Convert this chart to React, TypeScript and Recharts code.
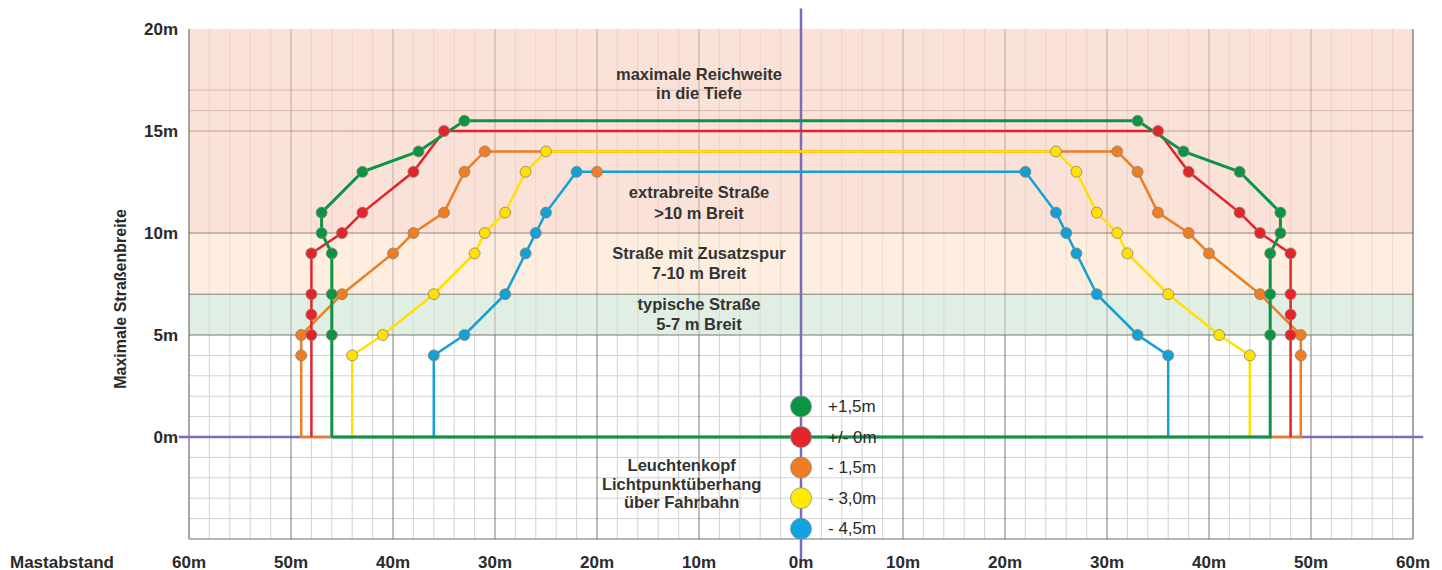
import React from "react";
import {
  ComposedChart,
  Line,
  Scatter,
  XAxis,
  YAxis,
  ReferenceArea,
  ReferenceLine,
} from "recharts";

// Achsen
const xTicks = [-60, -50, -40, -30, -20, -10, 0, 10, 20, 30, 40, 50, 60];
const yTicks = [0, 5, 10, 15, 20];

// Lichtpunktüberhang-Kurven (x = Mastabstand, y = Straßenbreite), links -> rechts
const greenPath = [
  { x: -46, y: 0 }, { x: -46, y: 5 }, { x: -46, y: 7 }, { x: -46, y: 9 },
  { x: -47, y: 10 }, { x: -47, y: 11 }, { x: -43, y: 13 }, { x: -37.5, y: 14 },
  { x: -33, y: 15.5 }, { x: 33, y: 15.5 }, { x: 37.5, y: 14 }, { x: 43, y: 13 },
  { x: 47, y: 11 }, { x: 47, y: 10 }, { x: 46, y: 9 }, { x: 46, y: 7 },
  { x: 46, y: 5 }, { x: 46, y: 0 }, { x: -46, y: 0 },
];
const redPath = [
  { x: -48, y: 0 }, { x: -48, y: 5 }, { x: -48, y: 6 }, { x: -48, y: 7 },
  { x: -48, y: 9 }, { x: -45, y: 10 }, { x: -43, y: 11 }, { x: -38, y: 13 },
  { x: -35, y: 15 }, { x: 35, y: 15 }, { x: 38, y: 13 }, { x: 43, y: 11 },
  { x: 45, y: 10 }, { x: 48, y: 9 }, { x: 48, y: 7 }, { x: 48, y: 6 },
  { x: 48, y: 5 }, { x: 48, y: 0 },
];
const orangePath = [
  { x: -46, y: 0 }, { x: -49, y: 0 }, { x: -49, y: 4 }, { x: -49, y: 5 },
  { x: -45, y: 7 }, { x: -40, y: 9 }, { x: -38, y: 10 }, { x: -35, y: 11 },
  { x: -33, y: 13 }, { x: -31, y: 14 }, { x: 31, y: 14 }, { x: 33, y: 13 },
  { x: 35, y: 11 }, { x: 38, y: 10 }, { x: 40, y: 9 }, { x: 45, y: 7 },
  { x: 49, y: 5 }, { x: 49, y: 4 }, { x: 49, y: 0 }, { x: 46, y: 0 },
];
const yellowPath = [
  { x: -44, y: 0 }, { x: -44, y: 4 }, { x: -41, y: 5 }, { x: -36, y: 7 },
  { x: -32, y: 9 }, { x: -31, y: 10 }, { x: -29, y: 11 }, { x: -27, y: 13 },
  { x: -25, y: 14 }, { x: 25, y: 14 }, { x: 27, y: 13 }, { x: 29, y: 11 },
  { x: 31, y: 10 }, { x: 32, y: 9 }, { x: 36, y: 7 }, { x: 41, y: 5 },
  { x: 44, y: 4 }, { x: 44, y: 0 },
];
const bluePath = [
  { x: -36, y: 0 }, { x: -36, y: 4 }, { x: -33, y: 5 }, { x: -29, y: 7 },
  { x: -27, y: 9 }, { x: -26, y: 10 }, { x: -25, y: 11 }, { x: -22, y: 13 },
  { x: 22, y: 13 }, { x: 25, y: 11 }, { x: 26, y: 10 }, { x: 27, y: 9 },
  { x: 29, y: 7 }, { x: 33, y: 5 }, { x: 36, y: 4 }, { x: 36, y: 0 },
];
// einzelner orangefarbener Punkt auf der blauen Linie (im Original vorhanden)
const strayDots = [{ x: -20, y: 13 }];

// Legende (Punkte sitzen auf der Mittelachse)
const legendLabels = ["+1,5m", "+/- 0m", "- 1,5m", "- 3,0m", "- 4,5m"];
const legendHeights = [1.5, 0, -1.5, -3, -4.5];

// Beschriftungen im Diagramm
const notes = [
  { x: -10, y: 17.8, text: "maximale Reichweite" },
  { x: -10, y: 16.85, text: "in die Tiefe" },
  { x: -10, y: 12.0, text: "extrabreite Straße" },
  { x: -10, y: 11.0, text: ">10 m Breit" },
  { x: -10, y: 9.0, text: "Straße mit Zusatzspur" },
  { x: -10, y: 8.05, text: "7-10 m Breit" },
  { x: -10, y: 6.5, text: "typische Straße" },
  { x: -10, y: 5.55, text: "5-7 m Breit" },
  { x: -11.7, y: -1.38, text: "Leuchtenkopf" },
  { x: -11.7, y: -2.28, text: "Lichtpunktüberhang" },
  { x: -11.7, y: -3.18, text: "über Fahrbahn" },
];

const C = {
  green: "#0C9445",
  red: "#E3242B",
  orange: "#EE7D23",
  yellow: "#FFE000",
  blue: "#12A0D5",
  purple: "#7D6BB8",
  text: "#2a2a2a",
  dotStroke: "#8d8373",
};
const legendColors = [C.green, C.red, C.orange, "#FFEA00", "#0FA3E0"];
const FONT = "'Liberation Sans', Arial, sans-serif";

const bands = [
  { from: 10, to: 20, fill: "#FBE2D8" },
  { from: 7, to: 10, fill: "#FDEEE0" },
  { from: 5, to: 7, fill: "#E1EEE3" },
];

// Rasterlinien
const minorX = Array.from({ length: 59 }, (_, i) => -58 + i * 2).filter((v) => v % 10 !== 0);
const majorX = [-50, -40, -30, -20, -10, 10, 20, 30, 40, 50];
const minorYLow = [4, 3, 2, 1, -1, -2, -3, -4];
const minorYHigh = [17, 16];

const seg = (x1: number, y1: number, x2: number, y2: number) => [
  { x: x1, y: y1 },
  { x: x2, y: y2 },
];

function makeDot(color: string) {
  return (p: any) => {
    if (p.payload.y === 0) return <g key={p.index} />;
    return (
      <circle
        key={p.index}
        cx={p.cx}
        cy={p.cy}
        r={5.5}
        fill={color}
        stroke={C.dotStroke}
        strokeWidth={0.8}
      />
    );
  };
}

const YTick = (p: any) => (
  <text
    x={p.x - 11}
    y={p.y}
    textAnchor="end"
    dominantBaseline="central"
    fontFamily={FONT}
    fontWeight="bold"
    fontSize={17}
    fill={C.text}
  >
    {p.payload.value}m
  </text>
);

const XTick = (p: any) => (
  <text
    x={p.x}
    y={p.y + 23}
    textAnchor="middle"
    dominantBaseline="central"
    fontFamily={FONT}
    fontWeight="bold"
    fontSize={17}
    fill={C.text}
  >
    {Math.abs(p.payload.value)}m
  </text>
);

export default function App() {
  const legendRows = legendLabels.map((label, i) => ({
    x: 0,
    y: legendHeights[i],
    label,
    color: legendColors[i],
  }));

  return (
    <div style={{ position: "absolute", left: 0, top: 0, width: 1442, height: 570, background: "#fff" }}>
      <ComposedChart
        width={1442}
        height={570}
        margin={{ top: 29, right: 29, bottom: 0, left: 109 }}
        style={{ fontFamily: FONT }}
      >
        <XAxis
          type="number"
          dataKey="x"
          domain={[-60, 60]}
          ticks={xTicks}
          height={31}
          axisLine={false}
          tickLine={false}
          tickSize={0}
          tickMargin={0}
          tick={<XTick />}
          interval={0}
          allowDataOverflow
          label={(p: any) => (
            <text
              x={p.viewBox.x - 179}
              y={p.viewBox.y + 23}
              dominantBaseline="central"
              fontFamily={FONT}
              fontWeight="bold"
              fontSize={17}
              fill={C.text}
            >
              Mastabstand
            </text>
          )}
        />
        <YAxis
          type="number"
          dataKey="y"
          domain={[-5, 20]}
          ticks={yTicks}
          width={80}
          axisLine={false}
          tickLine={false}
          tickSize={0}
          tickMargin={0}
          tick={<YTick />}
          interval={0}
          allowDataOverflow
          label={(p: any) => {
            const cx = p.viewBox.x + 11;
            const cy = p.viewBox.y + p.viewBox.height / 2 + 15;
            return (
              <text
                x={cx}
                y={cy}
                transform={`rotate(-90 ${cx} ${cy})`}
                textAnchor="middle"
                dominantBaseline="central"
                fontFamily={FONT}
                fontWeight="bold"
                fontSize={16}
                fill={C.text}
              >
                Maximale Straßenbreite
              </text>
            );
          }}
        />

        {bands.map((b) => (
          <ReferenceArea
            key={b.from}
            x1={-60}
            x2={60}
            y1={b.from}
            y2={b.to}
            fill={b.fill}
            fillOpacity={1}
            stroke="none"
          />
        ))}

        {/* Nebenraster */}
        {minorX.map((v) => (
          <ReferenceLine key={`mxl${v}`} segment={seg(v, -5, v, 5)} stroke="#d2d2d2" strokeWidth={1} />
        ))}
        {minorX.map((v) => (
          <ReferenceLine key={`mxh${v}`} segment={seg(v, 5, v, 20)} stroke="rgba(150,90,70,0.12)" strokeWidth={1} />
        ))}
        {minorYLow.map((v) => (
          <ReferenceLine key={`myl${v}`} segment={seg(-60, v, 60, v)} stroke="#d2d2d2" strokeWidth={1} />
        ))}
        {minorYHigh.map((v) => (
          <ReferenceLine key={`myh${v}`} segment={seg(-60, v, 60, v)} stroke="rgba(110,70,60,0.25)" strokeWidth={1} />
        ))}

        {/* Hauptraster */}
        {majorX.map((v) => (
          <ReferenceLine key={`Mxl${v}`} segment={seg(v, -5, v, 5)} stroke="#7a7a7a" strokeWidth={1} />
        ))}
        {majorX.map((v) => (
          <ReferenceLine key={`Mxh${v}`} segment={seg(v, 5, v, 20)} stroke="rgba(90,60,50,0.35)" strokeWidth={1} />
        ))}
        <ReferenceLine segment={seg(-60, -5, -60, 20)} stroke="#6e6e6e" strokeWidth={1.2} />
        <ReferenceLine segment={seg(60, -5, 60, 20)} stroke="#6e6e6e" strokeWidth={1.2} />
        <ReferenceLine segment={seg(-60, 15, 60, 15)} stroke="rgba(90,60,50,0.4)" strokeWidth={1} />
        <ReferenceLine segment={seg(-60, 10, 60, 10)} stroke="rgba(70,50,45,0.55)" strokeWidth={1} />
        <ReferenceLine segment={seg(-60, 7, 60, 7)} stroke="rgba(60,50,45,0.6)" strokeWidth={1} />
        <ReferenceLine segment={seg(-60, 5, 60, 5)} stroke="#777" strokeWidth={1} />
        <ReferenceLine segment={seg(-60, -5, 60, -5)} stroke="#6e6e6e" strokeWidth={1.2} />

        {/* Mittelachsen */}
        <ReferenceLine segment={seg(-61, 0, 61, 0)} stroke={C.purple} strokeWidth={2.5} ifOverflow="visible" />
        <ReferenceLine segment={seg(0, -6, 0, 21)} stroke={C.purple} strokeWidth={2.5} ifOverflow="visible" />

        <Scatter
          data={legendRows}
          isAnimationActive={false}
          shape={(p: any) => (
            <g>
              <circle cx={p.cx} cy={p.cy} r={10.5} fill={p.payload.color} stroke="#8a8a8a" strokeWidth={0.8} />
              <text
                x={p.cx + 27}
                y={p.cy}
                dominantBaseline="central"
                fontFamily={FONT}
                fontSize={17}
                fill={C.text}
              >
                {p.payload.label}
              </text>
            </g>
          )}
        />

        <Line data={bluePath} dataKey="y" type="linear" stroke={C.blue} strokeWidth={2.5} dot={makeDot(C.blue)} isAnimationActive={false} />
        <Line data={orangePath} dataKey="y" type="linear" stroke={C.orange} strokeWidth={2.5} dot={makeDot(C.orange)} isAnimationActive={false} />
        <Line data={yellowPath} dataKey="y" type="linear" stroke={C.yellow} strokeWidth={2.5} dot={makeDot(C.yellow)} isAnimationActive={false} />
        <Line data={redPath} dataKey="y" type="linear" stroke={C.red} strokeWidth={2.5} dot={makeDot(C.red)} isAnimationActive={false} />
        <Line data={greenPath} dataKey="y" type="linear" stroke={C.green} strokeWidth={3} dot={makeDot(C.green)} isAnimationActive={false} />

        <Scatter
          data={strayDots}
          isAnimationActive={false}
          shape={(p: any) => (
            <circle cx={p.cx} cy={p.cy} r={5.5} fill={C.orange} stroke={C.dotStroke} strokeWidth={0.8} />
          )}
        />

        <Scatter
          data={notes}
          isAnimationActive={false}
          shape={(p: any) => (
            <text
              x={p.cx}
              y={p.cy}
              textAnchor="middle"
              dominantBaseline="central"
              fontFamily={FONT}
              fontWeight="bold"
              fontSize={16.5}
              fill="#333"
            >
              {p.payload.text}
            </text>
          )}
        />
      </ComposedChart>
    </div>
  );
}
